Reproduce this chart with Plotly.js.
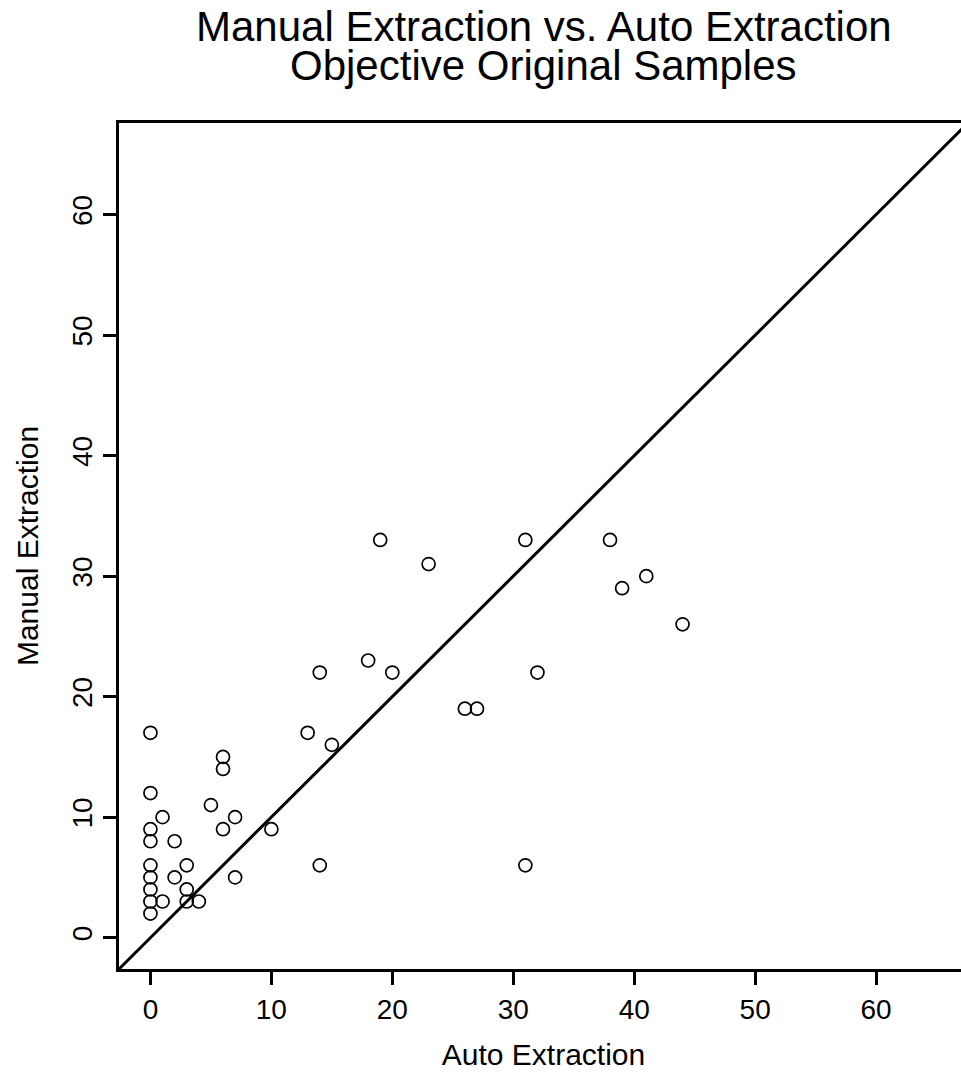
<!DOCTYPE html>
<html>
<head>
<meta charset="utf-8">
<script src="https://cdn.plot.ly/plotly-3.0.1.min.js"></script>
<style>
html,body{margin:0;padding:0;overflow:hidden;background:#fff;}
#chart{width:980px;height:1074px;}
</style>
</head>
<body>
<div id="chart"></div>
<script>
// Data
const autoExtraction   = [0,0,0,0,0,0,0,0,0, 1,1, 2,2, 3,3,3, 4, 5, 6,6,6, 7,7, 10, 13, 14,14, 15, 18, 19, 20, 23, 26, 27, 31,31, 32, 38, 39, 41, 44];
const manualExtraction = [17,12,9,8,6,5,4,3,2, 10,3, 8,5, 6,4,3, 3, 11, 15,14,9, 10,5, 9, 17, 22,6, 16, 23, 33, 22, 31, 19, 19, 33,6, 22, 33, 29, 30, 26];
const tickVals = [0,10,20,30,40,50,60];
const titleLines = ["Manual Extraction vs. Auto Extraction", "Objective Original Samples"];
const xLabel = "Auto Extraction";
const yLabel = "Manual Extraction";
const axisRange = [-2.6, 67.6];

const font = "Liberation Sans, Arial, sans-serif";

const trace = {
  x: autoExtraction,
  y: manualExtraction,
  type: 'scatter',
  mode: 'markers',
  marker: {symbol: 'circle-open', size: 13, color: '#000', line: {width: 1.7, color: '#000'}},
  hoverinfo: 'x+y',
  showlegend: false
};

const axisCommon = {
  range: axisRange,
  tickvals: tickVals,
  ticktext: tickVals.map(String),
  ticks: 'outside',
  ticklen: 13,
  tickwidth: 3,
  tickcolor: '#000',
  showline: true,
  linewidth: 3,
  linecolor: '#000',
  mirror: true,
  showgrid: false,
  zeroline: false,
  tickfont: {family: font, size: 28, color: '#000'},
  fixedrange: true
};

const layout = {
  width: 980,
  height: 1074,
  margin: {l: 119, r: 12, t: 123, b: 105},
  paper_bgcolor: '#fff',
  plot_bgcolor: '#fff',
  showlegend: false,
  xaxis: Object.assign({}, axisCommon, {
    title: {text: xLabel, font: {family: font, size: 30, color: '#000'}, standoff: 21}
  }),
  yaxis: Object.assign({}, axisCommon, {
    tickangle: -90,
    title: {text: yLabel, font: {family: font, size: 30, color: '#000'}, standoff: 20}
  }),
  shapes: [{
    type: 'line', xref: 'x', yref: 'y',
    x0: axisRange[0], y0: axisRange[0], x1: axisRange[1], y1: axisRange[1],
    line: {color: '#000', width: 3}
  }],
  annotations: [
    {text: titleLines[0], xref: 'paper', yref: 'paper', x: 0.5, y: 1.1135, xanchor: 'center', yanchor: 'middle', showarrow: false, borderpad: 0, font: {family: font, size: 42, color: '#000'}},
    {text: titleLines[1], xref: 'paper', yref: 'paper', x: 0.5, y: 1.0675, xanchor: 'center', yanchor: 'middle', showarrow: false, borderpad: 0, font: {family: font, size: 42, color: '#000'}}
  ]
};

Plotly.newPlot('chart', [trace], layout, {displayModeBar: false, staticPlot: true});
</script>
</body>
</html>
